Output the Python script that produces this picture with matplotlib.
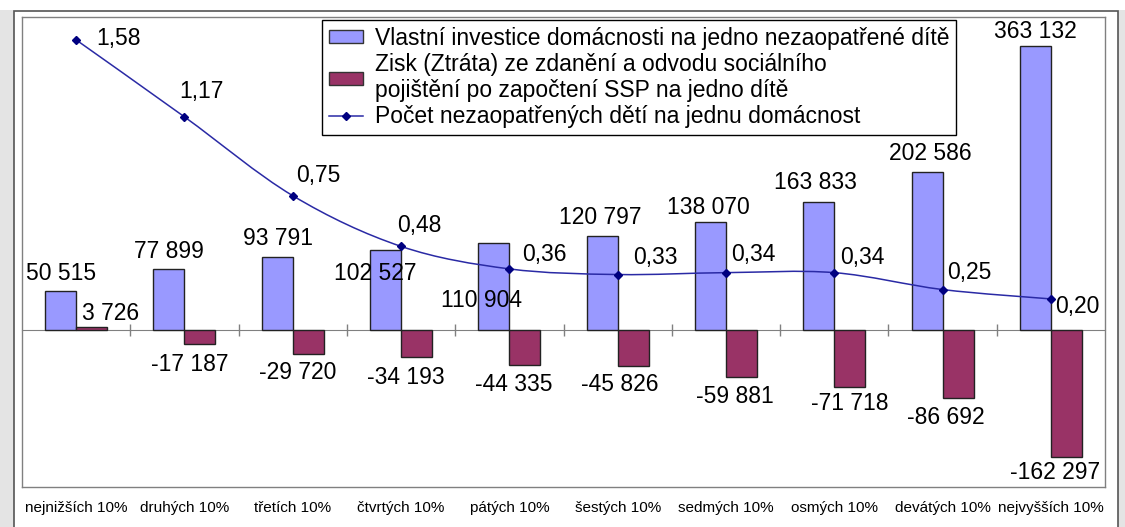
import numpy as np
import matplotlib
matplotlib.use("Agg")
import matplotlib.pyplot as plt
from matplotlib.path import Path
from matplotlib.patches import PathPatch, Rectangle, Patch
from matplotlib.lines import Line2D

plt.rcParams['font.family'] = ['Liberation Sans', 'DejaVu Sans']

# ---------------- data ----------------
categories = ["nejnižších 10%", "druhých 10%", "třetích 10%", "čtvrtých 10%",
              "pátých 10%", "šestých 10%", "sedmých 10%", "osmých 10%",
              "devátých 10%", "nejvyšších 10%"]
investment = [50515, 77899, 93791, 102527, 110904, 120797, 138070, 163833, 202586, 363132]
tax_gain = [3726, -17187, -29720, -34193, -44335, -45826, -59881, -71718, -86692, -162297]
children = [1.58, 1.17, 0.75, 0.48, 0.36, 0.33, 0.34, 0.34, 0.25, 0.20]

legend_labels = ["Vlastní investice domácnosti na jedno nezaopatřené dítě",
                 "Zisk (Ztráta) ze zdanění a odvodu sociálního\npojištění po započtení SSP na jedno dítě",
                 "Počet nezaopatřených dětí na jednu domácnost"]

# label offsets in pixels (styling)
inv_off = [(0, 17), (0, 18), (1, 18), (-10, -23), (-12, -57), (-2, 18), (-2, 15), (-3, 19), (3, 18), (0, 14)]
tax_off = [(19, 14), (-10, -21), (-11, -19), (-11, -20), (-11, -19), (-13, -18), (-7, -19), (0, -17), (-12, -19), (-11, -15)]
kid_off = [(42, 1), (17, 25), (26, 20), (18, 21), (35, 14), (38, 17), (27, 18), (28, 15), (27, 17), (26, -8)]

BLUE = '#9999FF'
RED = '#993366'
NAVY = '#000080'
FS = 16.5

W, H = 1125, 527
fig = plt.figure(figsize=(W / 100, H / 100), dpi=100)
fig.patch.set_facecolor('white')

# window background strips and chart frame
fig.patches.append(Rectangle((0, 0), 14 / W, (H - 10) / H, transform=fig.transFigure,
                             facecolor='#e4e4e4', edgecolor='none', zorder=0))
fig.patches.append(Rectangle((1118 / W, 0), 7 / W, (H - 10) / H, transform=fig.transFigure,
                             facecolor='#e4e4e4', edgecolor='none', zorder=0))
fig.patches.append(Rectangle((14 / W, -0.02), (1118 - 14) / W, (H - 11) / H + 0.02,
                             transform=fig.transFigure, facecolor='none',
                             edgecolor='#555555', linewidth=1.2, zorder=1))

ax = fig.add_axes([22 / W, (H - 487) / H, (1105 - 22) / W, (487 - 17) / H])
x = np.arange(len(categories))
w = 0.286

ax.bar(x - w / 2, investment, w, color=BLUE, edgecolor='#222222', linewidth=1, zorder=3)
ax.bar(x + w / 2, tax_gain, w, color=RED, edgecolor='#222222', linewidth=1, zorder=3)

ax.set_xlim(-0.5, len(categories) - 0.5)
ax.set_ylim(-200000, 400000)
ax.set_yticks([])
ax.set_xticks(x, categories, fontsize=11)
ax.tick_params(axis='x', length=0, pad=10)
for s in ax.spines.values():
    s.set_color('#808080')
    s.set_linewidth(1)

# zero axis with category-boundary ticks
zero_frac = (0 - ax.get_ylim()[0]) / (ax.get_ylim()[1] - ax.get_ylim()[0])
sec = ax.secondary_xaxis(zero_frac)
sec.set_xticks(np.arange(0.5, len(categories) - 0.5, 1.0))
sec.tick_params(direction='inout', length=8, width=1, color='#808080', labelbottom=False, labeltop=False)
sec.spines['bottom'].set_color('#808080')
sec.spines['top'].set_color('#808080')


def fmt_int(v):
    return f"{v:,}".replace(",", " ")


for i, v in enumerate(investment):
    ax.annotate(fmt_int(v), (x[i] - w / 2, v), xytext=inv_off[i], textcoords='offset pixels',
                ha='center', va='center', fontsize=FS, zorder=5)
for i, v in enumerate(tax_gain):
    ax.annotate(fmt_int(v), (x[i] + w / 2, v), xytext=tax_off[i], textcoords='offset pixels',
                ha='center', va='center', fontsize=FS, zorder=5)

# secondary axis for the line
ax2 = ax.twinx()
ax2.set_ylim(-0.802, 1.702)
ax2.set_axis_off()

pts = np.column_stack([x.astype(float), np.array(children, dtype=float)])
n = len(pts)
verts = [pts[0]]
codes = [Path.MOVETO]
for i in range(n - 1):
    p0 = pts[max(i - 1, 0)]
    p1 = pts[i]
    p2 = pts[i + 1]
    p3 = pts[min(i + 2, n - 1)]
    verts += [p1 + (p2 - p0) / 6.0, p2 - (p3 - p1) / 6.0, p2]
    codes += [Path.CURVE4] * 3
ax2.add_patch(PathPatch(Path(verts, codes), facecolor='none', edgecolor='#2a2aa5',
                        linewidth=1.1, zorder=4))
ax2.plot(x, children, linestyle='none', marker='D', markersize=4, color=NAVY, zorder=5)

for i, v in enumerate(children):
    ax2.annotate(f"{v:.2f}".replace(".", ","), (x[i], v), xytext=kid_off[i],
                 textcoords='offset pixels', ha='center', va='center', fontsize=FS, zorder=6)

handles = [Patch(facecolor=BLUE, edgecolor='#333333', linewidth=1),
           Patch(facecolor=RED, edgecolor='#333333', linewidth=1),
           Line2D([], [], color='#2a2aa5', linewidth=1.1, marker='D', markersize=4,
                  markerfacecolor=NAVY, markeredgecolor=NAVY)]
leg = ax2.legend(handles, legend_labels, loc='upper left',
                 bbox_to_anchor=((322 - 22) / (1105 - 22), (487 - 20) / (487 - 17)),
                 borderaxespad=0, frameon=True, fancybox=False, framealpha=1,
                 edgecolor='black', fontsize=FS, handlelength=1.5, handleheight=0.5,
                 handletextpad=0.5, labelspacing=0.12, borderpad=0.3)
leg.get_frame().set_linewidth(1)
leg.set_zorder(10)

fig.savefig("out.png", dpi=100)
